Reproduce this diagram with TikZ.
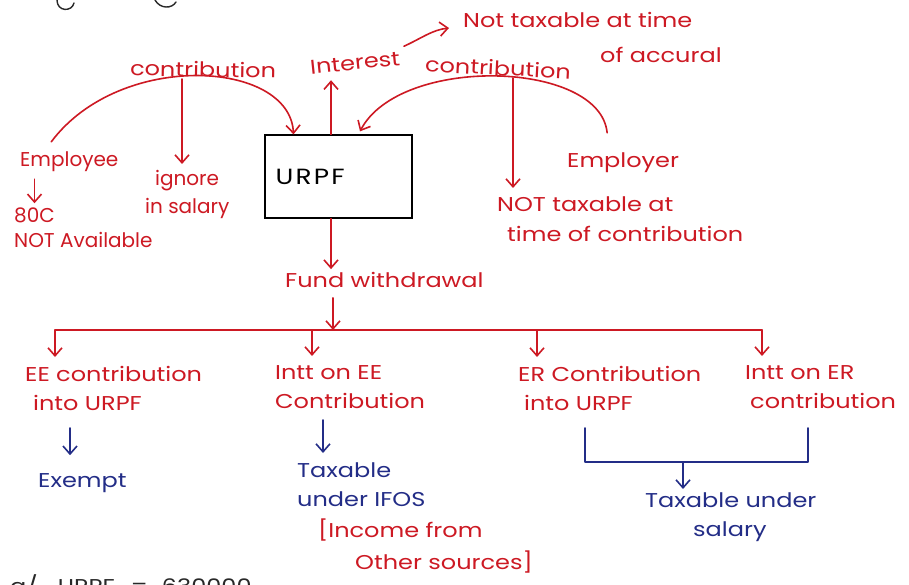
\documentclass[tikz,border=0pt]{standalone}
\usepackage{fontspec}
\setmainfont{Poppins}[FakeStretch=1.2]
\newfontfamily\plainfont{Poppins}
\usetikzlibrary{arrows.meta}
\definecolor{ink}{RGB}{205,25,35}
\definecolor{pen}{RGB}{35,45,135}
\definecolor{lead}{RGB}{40,40,40}
\tikzset{
  lbl/.style={inner sep=0pt, text=ink, font=\fontsize{20}{29}\selectfont, align=left},
  plbl/.style={lbl, font=\plainfont\fontsize{20}{28}\selectfont},
  blbl/.style={lbl, text=pen},
  redln/.style={draw=ink, line width=1.6pt, line cap=round, line join=round},
  blueln/.style={draw=pen, line width=1.6pt, line cap=round, line join=round},
  tip/.style={-{Straight Barb[length=8pt,width=14pt,line width=1.6pt]}},
  fundbox/.style={draw=black, line width=1.3pt, minimum width=147pt, minimum height=83pt, inner sep=0pt}
}
\begin{document}
\begin{tikzpicture}[x=1pt,y=-1pt]
\useasboundingbox[fill=white] (0,0) rectangle (909,585);

% fragments of the heading above
\draw[lead, line width=1.4pt, line cap=round] (57,0) .. controls (57,12) and (72,12) .. (74,3);
\draw[lead, line width=1.4pt, line cap=round] (155,0) .. controls (160,9) and (172,9) .. (176,2);

% central fund
\node[fundbox] (urpf) at (338.5,176.5) {};
\node[anchor=west, inner sep=0pt, font=\fontsize{22}{24}\selectfont\addfontfeature{LetterSpace=10}] (urpft) at ([xshift=11pt]urpf.west) {URPF};

% employee side
\node[plbl, anchor=west] (emp) at (20,162) {Employee};
\node[plbl, anchor=west] (c80) at (14,215) {80C};
\node[plbl, anchor=west] (nav) at (14,240) {NOT Available};
\node[lbl, anchor=west, rotate=-1] (contl) at (130,68) {contribution};
\node[plbl, anchor=north west] (ign) at (145,170) {\hspace*{10pt}ignore\\in salary};
\coordinate (lc) at (182,79);
\draw[redln, tip] ([xshift=-18pt,yshift=10pt]emp.north) .. controls (120,50) and (290,60) .. ([xshift=-45pt]urpf.north);
\draw[redln, tip, shorten >=6pt] (lc) -- (lc |- ign.north);
\draw[redln, tip, shorten <=7pt, shorten >=4pt] (emp.south -| c80.north) -- (c80.north);

% interest
\node[lbl, rotate=6] (int) at (355,63) {Interest};
\node[lbl, anchor=west] (ntx) at (463,20) {Not taxable at time};
\node[lbl, anchor=west] (acc) at (600,55) {of accural};
\coordinate (intfoot) at ([xshift=-7.5pt]urpf.north);
\draw[redln, tip, shorten >=10pt] (intfoot) -- (intfoot |- int.south);
\draw[redln, tip] ([xshift=4pt,yshift=12pt]int.east) .. controls (422,38) and (432,30) .. ([xshift=-14pt,yshift=-8pt]ntx.west);

% employer side
\node[lbl, anchor=west] (empr) at (567,163) {Employer};
\node[lbl, anchor=west, rotate=-3] (contr) at (425,64) {contribution};
\node[lbl, anchor=north west] (ntc) at (497,197) {NOT taxable at\\\hspace*{10pt}time of contribution};
\coordinate (rc) at (513,78);
\draw[redln, tip] ([xshift=-16pt,yshift=20pt]empr.north) .. controls (600,60) and (400,55) .. ([xshift=21.5pt,yshift=3pt]urpf.north);
\draw[redln, tip, shorten >=9pt] (rc) -- (rc |- ntc.north);

% withdrawal and its four parts
\node[lbl, anchor=west] (fund) at (285,280) {Fund withdrawal};
\coordinate (bus) at (333,330);
\draw[redln, tip, shorten >=3pt] ([xshift=-7.5pt]urpf.south) -- ([xshift=-7.5pt]urpf.south |- fund.north);
\draw[redln, tip] (fund.south -| bus) ++(0,10) -- (bus);

\node[lbl, anchor=north west] (ee) at (25,366) {EE contribution\\\hspace*{8pt}into URPF};
\node[lbl, anchor=north west] (iee) at (275,365) {Intt on EE\\Contribution};
\node[lbl, anchor=north west] (er) at (518,366) {ER Contribution\\\hspace*{6pt}into URPF};
\node[lbl, anchor=north west] (ier) at (745,365) {Intt on ER\\\hspace*{5pt}contribution};

\coordinate (b1) at (55,330);
\coordinate (b2) at (312,330);
\coordinate (b3) at (537,330);
\coordinate (b4) at (762,330);
\draw[redln] (b1) -- (b4);
\draw[redln, tip, shorten >=9pt] (b1) -- (b1 |- ee.north);
\draw[redln, tip, shorten >=9pt] (b2) -- (b2 |- iee.north);
\draw[redln, tip, shorten >=9pt] (b3) -- (b3 |- er.north);
\draw[redln, tip, shorten >=9pt] (b4) -- (b4 |- ier.north);

% tax treatment
\node[blbl, anchor=west] (ex) at (38,483) {Exempt};
\coordinate (exa) at (70,428);
\draw[blueln, tip, shorten >=18pt] (exa) -- (exa |- ex.north);

\node[blbl, anchor=north west] (tx) at (297,462) {Taxable\\under IFOS};
\node[lbl, anchor=north west, font=\fontsize{20}{32}\selectfont] (ifos) at (318,519) {[Income from\\\hspace*{37pt}Other sources]};
\coordinate (txa) at (323,420);
\draw[blueln, tip, shorten >=9pt] (txa) -- (txa |- tx.north);

\coordinate (bl) at (585,428);
\coordinate (br) at (808,428);
\coordinate (bm) at (683,462);
\node[blbl, anchor=north west] (sal) at (645,492) {Taxable under\\\hspace*{48pt}salary};
\draw[blueln] (bl) -- (bl |- bm) -- (br |- bm) -- (br);
\draw[blueln, tip, shorten >=3pt] (bm) -- (bm |- sal.north);

% note below, cut at the edge
\begin{scope}
\clip (0,0) rectangle (909,585);
\node[anchor=base west, inner sep=0pt, text=lead, font=\fontsize{20}{24}\selectfont] (note) at (10,593) {a/\hspace{20pt}URPF\hspace{16pt}=\hspace{14pt}630000};
\end{scope}
\end{tikzpicture}
\end{document}
